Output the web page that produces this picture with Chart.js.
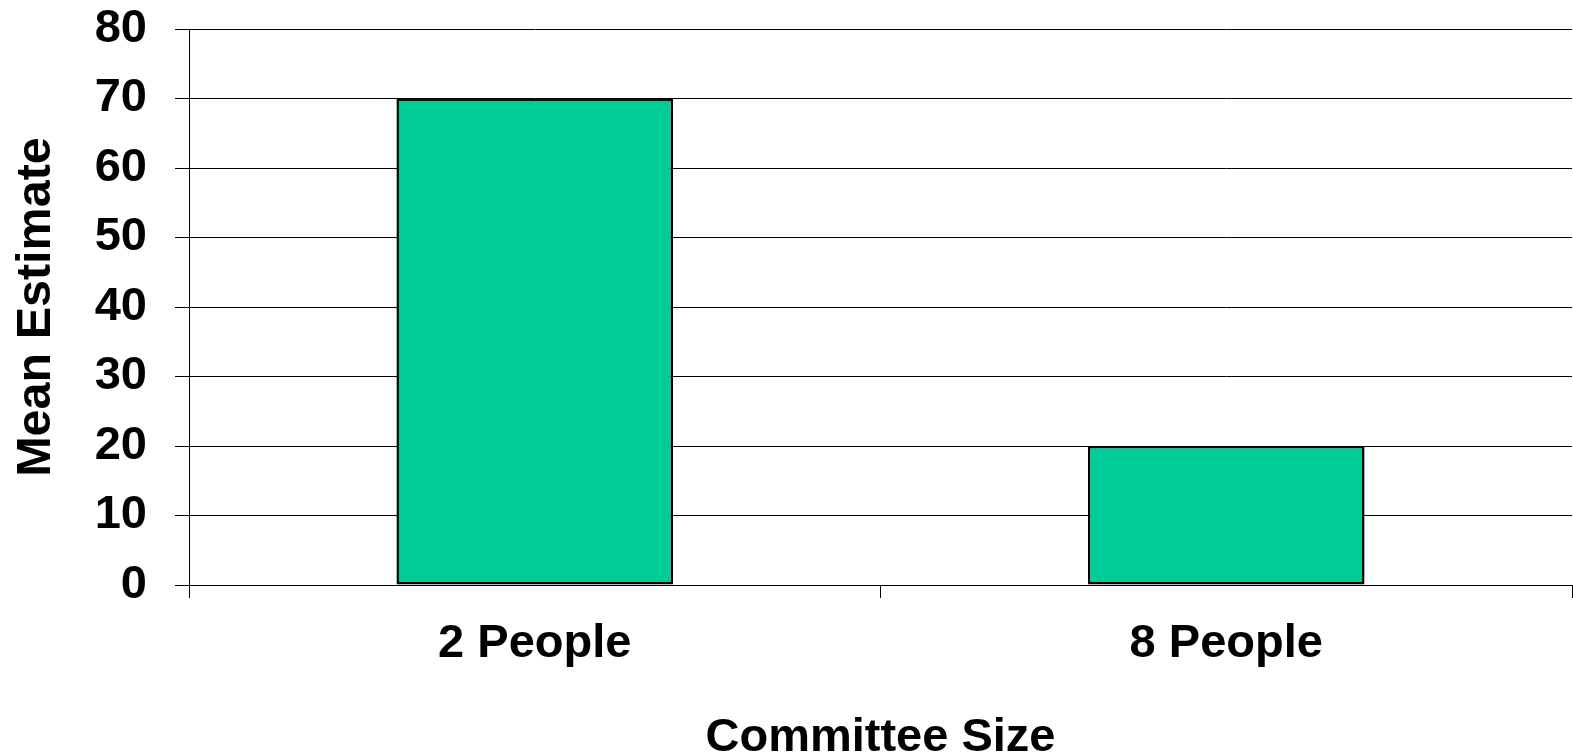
<!DOCTYPE html>
<html>
<head>
<meta charset="utf-8">
<script src="https://cdn.jsdelivr.net/npm/chart.js@4/dist/chart.umd.min.js"></script>
<style>
  html, body { margin: 0; padding: 0; background: #ffffff; }
  #wrap { width: 1573px; height: 755px; }
</style>
</head>
<body>
<div id="wrap"><canvas id="c" width="1573" height="755"></canvas></div>
<script>
const categories = ["2 People", "8 People"];
const meanEstimate = [70, 20];
const yTicks = [0, 10, 20, 30, 40, 50, 60, 70, 80];
const xTitle = "Committee Size";
const yTitle = "Mean Estimate";

const FONT = "'Liberation Sans', Arial, Helvetica, sans-serif";

new Chart(document.getElementById('c'), {
  type: 'bar',
  data: {
    labels: categories,
    datasets: [{
      data: meanEstimate,
      backgroundColor: '#00CC99',
      borderColor: '#000000',
      borderWidth: 2.5,
      borderSkipped: false,
      barPercentage: 0.4,
      categoryPercentage: 1.0
    }]
  },
  options: {
    responsive: false,
    animation: false,
    devicePixelRatio: 1,
    layout: { padding: { top: 29, right: 1, bottom: 0, left: 0 } },
    plugins: { legend: { display: false }, tooltip: { enabled: false } },
    scales: {
      x: {
        offset: true,
        grid: {
          offset: true,
          drawOnChartArea: false,
          drawTicks: true,
          tickLength: 13,
          color: '#000000',
          lineWidth: 1
        },
        border: { display: true, color: '#000000', width: 1 },
        ticks: {
          color: '#000000',
          padding: 18,
          maxRotation: 0,
          font: { family: FONT, size: 47, weight: 'bold' }
        },
        title: {
          display: true,
          text: xTitle,
          color: '#000000',
          padding: { top: 0, bottom: 0 },
          font: { family: FONT, size: 47, weight: 'bold', lineHeight: 0.72 }
        },
        afterFit: (s) => { s.height = 170; s.paddingLeft = 0; s.paddingRight = 0; }
      },
      y: {
        min: 0,
        max: 80,
        afterBuildTicks: (s) => { s.ticks = yTicks.map(v => ({ value: v })); },
        grid: {
          color: '#000000',
          lineWidth: 1,
          drawTicks: true,
          tickLength: 14
        },
        border: { display: true, color: '#000000', width: 1 },
        ticks: {
          color: '#000000',
          padding: 28,
          font: { family: FONT, size: 47, weight: 'bold' }
        },
        title: {
          display: true,
          text: yTitle,
          color: '#000000',
          padding: { top: 8, bottom: 0 },
          font: { family: FONT, size: 48.5, weight: 'bold', lineHeight: 1.2 }
        },
        afterFit: (s) => { s.width = 189; s.paddingTop = 0; s.paddingBottom = 0; }
      }
    }
  }
});
</script>
</body>
</html>
